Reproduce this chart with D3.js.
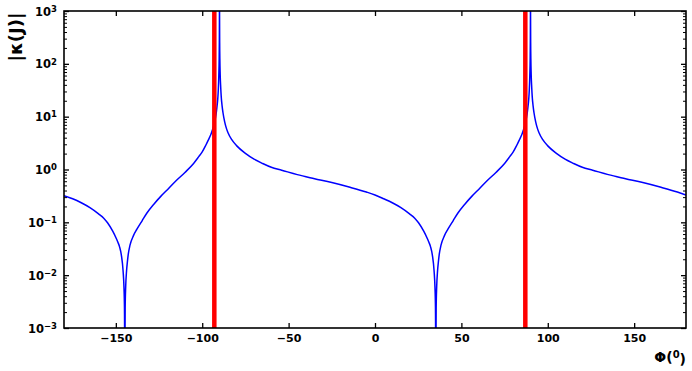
<!DOCTYPE html>
<html>
<head>
<meta charset="utf-8">
<script src="https://cdnjs.cloudflare.com/ajax/libs/d3/7.8.5/d3.min.js"></script>
<style>
  html, body { margin: 0; padding: 0; background: #fff; }
  svg { display: block; }
  text { font-family: "DejaVu Sans", sans-serif; font-weight: bold; }
</style>
</head>
<body>
<svg id="chart" width="692" height="371"></svg>
<script>
// ---- data ----
const phi = [
  -180, -175, -170, -165, -160, -157, -154.8, -151.8, -149.8, -148.8, -147.8, -146.8, -145.8, -145.3, -145.0, -144.8,
  -144.6, -144.3, -143.8, -143.3, -142.8, -141.8, -139.8, -137.8, -134.8, -132, -128, -124, -120, -115, -110, -105,
  -102, -100, -98, -96.5, -95, -94, -93, -92, -91.5, -91, -90.7, -90.4, -90.2, -90.1, -90.03, -90,
  -89.97, -89.9, -89.8, -89.6, -89.3, -89, -88.5, -88, -87, -86, -85, -83, -80, -75, -70, -65,
  -60, -54, -45, -35, -25, -15, -5, 0,
  5, 10, 15, 20, 23, 25.2, 28.2, 30.2, 31.2, 32.2, 33.2, 34.2, 34.7, 35.0, 35.2,
  35.4, 35.7, 36.2, 36.7, 37.2, 38.2, 40.2, 42.2, 45.2, 48, 52, 56, 60, 65, 70, 75,
  78, 80, 82, 83.5, 85, 86, 87, 88, 88.5, 89, 89.3, 89.6, 89.8, 89.9, 89.97, 90,
  90.03, 90.1, 90.2, 90.4, 90.7, 91, 91.5, 92, 93, 94, 95, 97, 100, 105, 110, 115,
  120, 126, 135, 145, 155, 165, 175, 180
];
const kappa = [
  0.32, 0.28, 0.235, 0.19, 0.145, 0.12, 0.098, 0.068, 0.05, 0.042, 0.034, 0.024, 0.012, 0.006, 0.0024, 0.0002,
  0.0024, 0.006, 0.012, 0.018, 0.025, 0.037, 0.056, 0.074, 0.107, 0.15, 0.22, 0.31, 0.42, 0.62, 0.88, 1.3,
  1.75, 2.15, 2.85, 3.6, 4.6, 5.7, 7.5, 11, 15, 22, 32, 60, 120, 250, 850, 5000,
  850, 250, 125, 63, 36, 24, 16, 12, 8, 6, 4.9, 3.7, 2.8, 2.02, 1.57, 1.3,
  1.1, 0.97, 0.8, 0.67, 0.565, 0.465, 0.375, 0.33,
  0.28, 0.235, 0.19, 0.145, 0.12, 0.098, 0.068, 0.05, 0.042, 0.034, 0.024, 0.012, 0.006, 0.0024, 0.0002,
  0.0024, 0.006, 0.012, 0.018, 0.025, 0.037, 0.056, 0.074, 0.107, 0.15, 0.22, 0.31, 0.42, 0.62, 0.88, 1.3,
  1.75, 2.15, 2.85, 3.6, 4.6, 5.7, 7.5, 11, 15, 22, 32, 60, 120, 250, 850, 5000,
  850, 250, 125, 63, 36, 24, 16, 12, 8, 6, 4.9, 3.7, 2.8, 2.02, 1.57, 1.3,
  1.1, 0.97, 0.8, 0.67, 0.565, 0.465, 0.375, 0.33
];
const redLines = [-93, 87];
const xTicks = [-150, -100, -50, 0, 50, 100, 150];
const yExponents = [-3, -2, -1, 0, 1, 2, 3];
const xLabel = "Φ(";
const xLabelSup = "0";
const yLabel = "|κ(J)|";

// ---- layout ----
const svg = d3.select("#chart");
const L = 64, R = 686, T = 11, B = 328;

const x = d3.scaleLinear().domain([-180, 180]).range([L, R]);
const y = d3.scaleLog().domain([1e-3, 1e3]).range([B, T]);

const majorY = yExponents.map(e => Math.pow(10, e));
const minorY = [];
for (let e = -3; e < 3; e++) for (let m = 2; m <= 9; m++) minorY.push(m * Math.pow(10, e));

svg.append("defs").append("clipPath").attr("id", "plotclip")
  .append("rect").attr("x", L).attr("y", T).attr("width", R - L).attr("height", B - T);

const plot = svg.append("g").attr("clip-path", "url(#plotclip)");

const pts = phi.map((p, i) => [p, kappa[i]]);
const line = d3.line().x(d => x(d[0])).y(d => y(d[1])).curve(d3.curveMonotoneX);
plot.append("path").datum(pts)
  .attr("d", line)
  .attr("fill", "none")
  .attr("stroke", "#0000ff")
  .attr("stroke-width", 1.5)
  .attr("stroke-linejoin", "round");

plot.selectAll("line.red").data(redLines).enter().append("line")
  .attr("class", "red")
  .attr("x1", d => x(d)).attr("x2", d => x(d))
  .attr("y1", T).attr("y2", B)
  .attr("stroke", "#ff0000")
  .attr("stroke-width", 4.5);

// ---- axes ----
function styleAxis(g) {
  g.select(".domain").remove();
  g.selectAll(".tick line").attr("stroke", "#000").attr("stroke-width", 1.3);
}

// bottom
const gx = svg.append("g").attr("transform", `translate(0,${B})`)
  .call(d3.axisBottom(x).tickValues(xTicks).tickSize(-5).tickPadding(6).tickFormat(d3.format("d")));
styleAxis(gx);
gx.selectAll("text").attr("font-size", 11).attr("fill", "#000")
  .attr("font-family", "DejaVu Sans").attr("font-weight", "bold");

// top
const gxt = svg.append("g").attr("transform", `translate(0,${T})`)
  .call(d3.axisTop(x).tickValues(xTicks).tickSize(-5).tickFormat(""));
styleAxis(gxt);

// left major
const gy = svg.append("g").attr("transform", `translate(${L},0)`)
  .call(d3.axisLeft(y).tickValues(majorY).tickSize(-5).tickPadding(7).tickFormat(() => ""));
styleAxis(gy);
gy.selectAll(".tick text").each(function(d, i) {
  const t = d3.select(this);
  t.attr("font-size", 11.5).attr("fill", "#000").attr("dy", "0.35em")
   .attr("font-family", "DejaVu Sans").attr("font-weight", "bold");
  t.text(null);
  t.append("tspan").text("10");
  t.append("tspan").attr("dy", "-0.45em").attr("font-size", 8.5)
    .text(yExponents[i] < 0 ? "\u2212" + Math.abs(yExponents[i]) : String(yExponents[i]));
});
// left minor
const gym = svg.append("g").attr("transform", `translate(${L},0)`)
  .call(d3.axisLeft(y).tickValues(minorY).tickSize(-3).tickFormat(""));
styleAxis(gym);
gym.selectAll(".tick line").attr("stroke-width", 1);

// right major + minor
const gyr = svg.append("g").attr("transform", `translate(${R},0)`)
  .call(d3.axisRight(y).tickValues(majorY).tickSize(-5).tickFormat(""));
styleAxis(gyr);
const gyrm = svg.append("g").attr("transform", `translate(${R},0)`)
  .call(d3.axisRight(y).tickValues(minorY).tickSize(-3).tickFormat(""));
styleAxis(gyrm);
gyrm.selectAll(".tick line").attr("stroke-width", 1);

// frame
svg.append("rect").attr("x", L).attr("y", T).attr("width", R - L).attr("height", B - T)
  .attr("fill", "none").attr("stroke", "#000").attr("stroke-width", 1.6);

// labels
const xl = svg.append("text").attr("x", 686).attr("y", 362)
  .attr("text-anchor", "end").attr("font-size", 14).attr("fill", "#000");
xl.append("tspan").text(xLabel);
xl.append("tspan").attr("dy", "-0.45em").attr("font-size", 10).text(xLabelSup);
xl.append("tspan").attr("dy", "0.45em").text(")");

svg.append("text")
  .attr("transform", "translate(22,37) rotate(-90)")
  .attr("text-anchor", "middle").attr("font-size", 18).attr("fill", "#000")
  .text(yLabel);
</script>
</body>
</html>
